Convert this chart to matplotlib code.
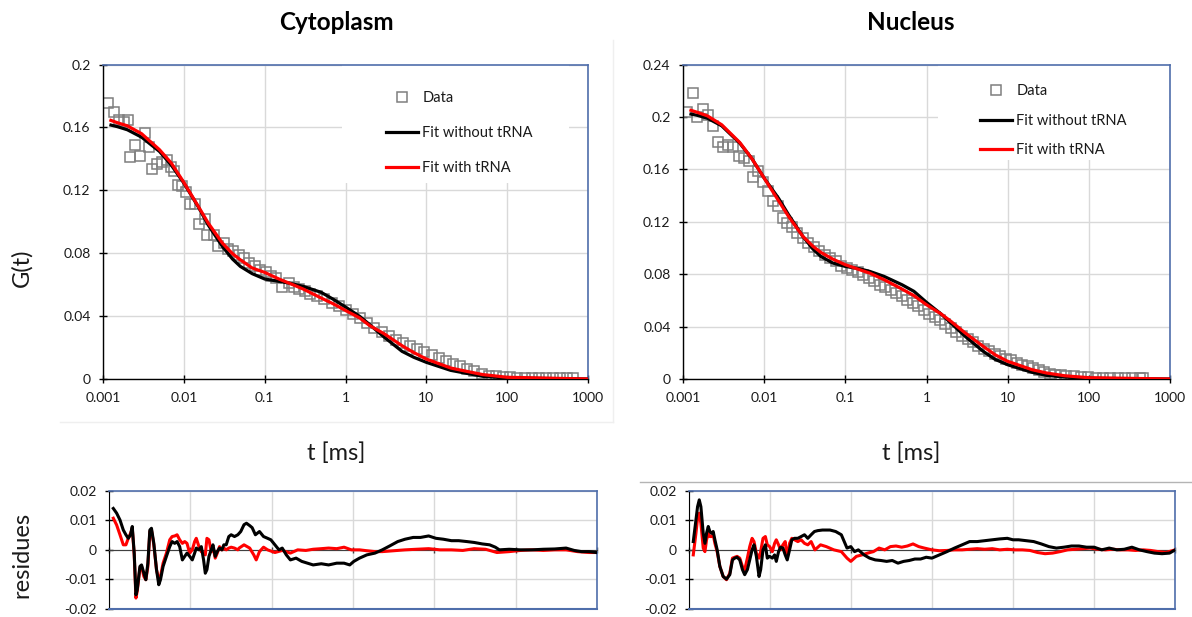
import numpy as np
import matplotlib
matplotlib.use("Agg")
import matplotlib.pyplot as plt
from matplotlib.lines import Line2D
from matplotlib.patches import Rectangle
from matplotlib.ticker import NullLocator

plt.rcParams['font.family'] = ['Lato', 'DejaVu Sans']

# ---------------- data ----------------
x_ticks = [0.001, 0.01, 0.1, 1, 10, 100, 1000]
x_ticklabels = ['0.001', '0.01', '0.1', '1', '10', '100', '1000']
cyto_yticks = [0, 0.04, 0.08, 0.12, 0.16, 0.2]
cyto_ylabels = ['0', '0.04', '0.08', '0.12', '0.16', '0.2']
nuc_yticks = [0, 0.04, 0.08, 0.12, 0.16, 0.2, 0.24]
nuc_ylabels = ['0', '0.04', '0.08', '0.12', '0.16', '0.2', '0.24']
res_yticks = [-0.02, -0.01, 0, 0.01, 0.02]
res_ylabels = ['-0.02', '-0.01', '0', '0.01', '0.02']
res_xgrid = [-3, -2, -1, 0, 1, 2, 3]

cyto_t = [0.00116, 0.00136, 0.00158, 0.00180, 0.00204, 0.00214, 0.00250, 0.00291, 0.00329, 0.00375,
          0.00407, 0.00460, 0.00536, 0.00612, 0.00692, 0.00765, 0.00848, 0.00958, 0.0106, 0.0119,
          0.0138, 0.0156, 0.0182, 0.0195, 0.0234, 0.0265, 0.0312, 0.0352, 0.0410, 0.0478,
          0.0556, 0.0648, 0.0755, 0.0879, 0.1025, 0.119, 0.139, 0.162, 0.199, 0.231,
          0.269, 0.314, 0.366, 0.448, 0.549, 0.674, 0.826, 1.01, 1.24, 1.52,
          1.86, 2.28, 2.80, 3.43, 4.20, 5.15, 6.31, 7.74, 9.49, 11.6,
          14.3, 17.5, 21.4, 26.2, 32.2, 39.4, 48.3, 59.2, 72.6, 88.9,
          109, 134, 164, 201, 246, 302, 370, 453, 555, 648]
cyto_G = [0.1754, 0.1697, 0.1644, 0.1635, 0.1645, 0.141, 0.1485, 0.142, 0.1564, 0.1475,
          0.1337, 0.1367, 0.1383, 0.139, 0.135, 0.132, 0.1235, 0.1225, 0.119, 0.1114,
          0.1114, 0.0987, 0.1017, 0.0917, 0.0917, 0.0843, 0.0864, 0.0826, 0.0811, 0.079,
          0.0769, 0.0737, 0.072, 0.0695, 0.0678, 0.0657, 0.0642, 0.0585, 0.061, 0.0585,
          0.0572, 0.0557, 0.0542, 0.0525, 0.0508, 0.0483, 0.0462, 0.0441, 0.0415, 0.0388,
          0.0356, 0.0324, 0.0297, 0.0271, 0.025, 0.0229, 0.0208, 0.0191, 0.0169, 0.0155,
          0.0133, 0.0112, 0.0097, 0.008, 0.0064, 0.0049, 0.0034, 0.0021, 0.0017, 0.0013,
          0.0011, 0.0009, 0.0008, 0.0007, 0.0006, 0.0006, 0.0005, 0.0005, 0.0005, 0.0005]

nuc_t = [0.00113, 0.00132, 0.00150, 0.00177, 0.00205, 0.00234, 0.00268, 0.00310, 0.00355, 0.00415,
         0.00485, 0.00567, 0.00642, 0.00734, 0.00841, 0.00972, 0.0111, 0.0127, 0.0147, 0.0169,
         0.0193, 0.0219, 0.0255, 0.0299, 0.0349, 0.0408, 0.0477, 0.0557, 0.0650, 0.0760,
         0.0888, 0.104, 0.121, 0.142, 0.166, 0.194, 0.226, 0.264, 0.309, 0.361,
         0.422, 0.493, 0.576, 0.673, 0.787, 0.920, 1.07, 1.26, 1.47, 1.71,
         2.00, 2.34, 2.74, 3.20, 3.73, 4.36, 5.10, 5.96, 6.97, 8.14,
         9.51, 11.1, 13.0, 15.2, 17.7, 20.7, 24.2, 28.3, 33.1, 38.7,
         45.2, 52.8, 65.0, 80.0, 98.5, 121, 149, 184, 226, 278,
         343, 421, 468]
nuc_G = [0.2041, 0.218, 0.2003, 0.206, 0.2016, 0.1927, 0.1812, 0.1774, 0.1787, 0.1769,
         0.1698, 0.1685, 0.166, 0.154, 0.1584, 0.1507, 0.1431, 0.1355, 0.1317, 0.1228,
         0.119, 0.1159, 0.1113, 0.1075, 0.1037, 0.1007, 0.0974, 0.0948, 0.0923, 0.0897,
         0.0859, 0.0846, 0.0834, 0.0813, 0.0796, 0.077, 0.0745, 0.0719, 0.0702, 0.0681,
         0.0656, 0.063, 0.0605, 0.058, 0.0554, 0.0529, 0.0498, 0.0473, 0.0447, 0.0422,
         0.0389, 0.0356, 0.033, 0.0305, 0.028, 0.0254, 0.0229, 0.0211, 0.0193, 0.0173,
         0.0155, 0.0142, 0.0122, 0.0109, 0.0097, 0.0081, 0.0066, 0.0051, 0.0041, 0.0033,
         0.0028, 0.0023, 0.002, 0.0015, 0.0013, 0.001, 0.0008, 0.0005, 0.0008, 0.0008,
         0.001, 0.0008, 0.0005]

fit_t = [0.0012, 0.0015, 0.002, 0.003, 0.005, 0.007, 0.01, 0.015, 0.02, 0.03,
         0.04, 0.05, 0.07, 0.1, 0.15, 0.2, 0.3, 0.5, 0.7, 1,
         1.5, 2, 3, 5, 7, 10, 20, 30, 50, 100, 1000]
cyto_fit_without = [0.1617, 0.1605, 0.1585, 0.1538, 0.1447, 0.136, 0.1246, 0.1097, 0.098, 0.0843,
                    0.0763, 0.0716, 0.067, 0.0636, 0.0621, 0.061, 0.0589, 0.0551, 0.0508, 0.0458,
                    0.0398, 0.0345, 0.0267, 0.0176, 0.0138, 0.0106, 0.0055, 0.0038, 0.0017, 0.0006, 0.0]
cyto_fit_with = [0.1648, 0.163, 0.161, 0.156, 0.1458, 0.1373, 0.125, 0.110, 0.0992, 0.0864,
                 0.0797, 0.0758, 0.0706, 0.0678, 0.0636, 0.061, 0.0572, 0.0515, 0.0479, 0.0436,
                 0.0388, 0.0339, 0.0288, 0.0212, 0.0168, 0.0127, 0.007, 0.0051, 0.0028, 0.0011, 0.0]
nuc_fit_without = [0.2024, 0.2012, 0.199, 0.1932, 0.180, 0.1685, 0.1533, 0.138, 0.1253, 0.1088,
                   0.0991, 0.0935, 0.0885, 0.0859, 0.0841, 0.0821, 0.0783, 0.0719, 0.0669, 0.0585,
                   0.0498, 0.0427, 0.0325, 0.0211, 0.0150, 0.0109, 0.0051, 0.0028, 0.0015, 0.0005, 0.0]
nuc_fit_with = [0.2054, 0.2035, 0.2008, 0.194, 0.1805, 0.1685, 0.1533, 0.1362, 0.124, 0.1088,
                0.1012, 0.0966, 0.0915, 0.0872, 0.0834, 0.0808, 0.0758, 0.0686, 0.0636, 0.0567,
                0.0498, 0.044, 0.0351, 0.0249, 0.0185, 0.0135, 0.0071, 0.0046, 0.0025, 0.001, 0.0]

# residues: x given as log10(t / ms)
cyto_res_logt_early = [-2.947, -2.906, -2.865, -2.824, -2.792, -2.763, -2.735, -2.714, -2.690, -2.669,
                       -2.653, -2.620, -2.600, -2.571, -2.547, -2.522, -2.498, -2.478, -2.449, -2.416,
                       -2.388, -2.367, -2.335, -2.294, -2.253, -2.224, -2.192, -2.163, -2.131, -2.098,
                       -2.069, -2.041, -2.008, -1.976, -1.947, -1.927, -1.894, -1.865, -1.837, -1.816,
                       -1.796, -1.771, -1.743, -1.722, -1.694, -1.669, -1.641, -1.612, -1.588, -1.559,
                       -1.527, -1.498, -1.457, -1.416]
cyto_res_without_early = [0.0140, 0.0124, 0.0101, 0.0067, 0.0051, 0.0039, 0.0051, 0.0079, -0.0011, -0.0152,
                          -0.0135, -0.0056, -0.0051, -0.0079, -0.0101, -0.0045, 0.0067, 0.0073, 0.0022, -0.0067,
                          -0.0118, -0.0101, -0.0056, -0.0022, 0.0011, 0.0028, 0.0022, 0.0028, 0.0011, -0.0034,
                          -0.0022, -0.0011, -0.0022, -0.0034, -0.0011, 0.0006, 0.0, 0.0011, -0.0034, -0.0079,
                          -0.0067, -0.0022, 0.0, 0.0017, -0.0022, -0.0006, 0.0006, 0.0, 0.0017, 0.0017,
                          0.0045, 0.0051, 0.0045, 0.0051]
cyto_res_with_early = [0.0107, 0.0084, 0.0051, 0.0017, 0.0017, 0.0039, 0.0056, 0.0073, -0.0017, -0.0163,
                       -0.0140, -0.0062, -0.0056, -0.0090, -0.0101, -0.0056, 0.0062, 0.0067, 0.0017, -0.0067,
                       -0.0101, -0.0090, -0.0045, -0.0011, 0.0034, 0.0045, 0.0047, 0.0051, 0.0034, 0.0022,
                       0.0028, 0.0022, -0.0011, 0.0, 0.0028, 0.0039, 0.0011, -0.0006, -0.0011, -0.0017,
                       0.0039, 0.0034, -0.0006, 0.0011, -0.0028, -0.0011, 0.0011, 0.0, 0.0006, 0.0,
                       0.0006, 0.0009, 0.0006, 0.0]
cyto_res_without_logt_late = [-1.38, -1.34, -1.31, -1.27, -1.24, -1.20, -1.15, -1.10, -1.05, -1.01,
                              -0.96, -0.91, -0.87, -0.82, -0.77, -0.70, -0.63, -0.56, -0.49, -0.39,
                              -0.30, -0.20, -0.11, -0.04, 0.01, 0.08, 0.17, 0.27, 0.36, 0.45,
                              0.55, 0.64, 0.74, 0.83, 0.93, 1.02, 1.11, 1.21, 1.30, 1.40,
                              1.49, 1.59, 1.68, 1.75, 1.80, 1.92, 2.06, 2.20, 2.34, 2.48,
                              2.62, 2.72, 2.81, 2.90, 2.99]
cyto_res_without_late = [0.0062, 0.0085, 0.009, 0.0082, 0.0075, 0.0051, 0.0062, 0.0045, 0.0039, 0.0034,
                         0.0017, 0.0, 0.0006, -0.0017, -0.0034, -0.0028, -0.0039, -0.0045, -0.0051, -0.0047,
                         -0.0051, -0.0045, -0.0045, -0.0051, -0.0039, -0.0028, -0.0017, -0.0011, 0.0, 0.0013,
                         0.0028, 0.0036, 0.0042, 0.0042, 0.0047, 0.0039, 0.0036, 0.0031, 0.0031, 0.0028,
                         0.0025, 0.002, 0.0017, 0.0009, 0.0, 0.0002, 0.0, 0.0, 0.0002, 0.0003,
                         0.0006, -0.0002, -0.0006, -0.0006, -0.0009]
cyto_res_with_logt_late = [-1.40, -1.34, -1.27, -1.22, -1.19, -1.15, -1.10, -1.05, -0.96, -0.87,
                           -0.77, -0.68, -0.58, -0.49, -0.39, -0.30, -0.20, -0.11, -0.02, 0.08,
                           0.17, 0.27, 0.36, 0.50, 0.64, 0.78, 0.93, 1.07, 1.21, 1.35,
                           1.49, 1.63, 1.77, 1.92, 2.06, 2.20, 2.34, 2.48, 2.62, 2.76,
                           2.90, 2.99]
cyto_res_with_late = [0.0006, 0.0017, 0.0006, -0.0017, -0.0034, -0.0006, 0.0009, 0.0, -0.0009, -0.0002,
                      -0.0011, 0.0, -0.0002, 0.0002, 0.0004, 0.0006, 0.0004, 0.0009, 0.0, 0.0,
                      -0.0003, -0.0006, -0.0006, -0.0003, 0.0, 0.0002, 0.0004, 0.0, 0.0, -0.0002,
                      0.0004, 0.0002, -0.0009, -0.0006, -0.0002, 0.0, -0.0002, 0.0, 0.0, -0.0006,
                      -0.0009, -0.0009]

nuc_res_logt_early = [-2.951, -2.918, -2.898, -2.877, -2.857, -2.828, -2.807, -2.787, -2.766, -2.746,
                      -2.725, -2.705, -2.684, -2.656, -2.623, -2.582, -2.541, -2.500, -2.467, -2.439,
                      -2.410, -2.377, -2.344, -2.316, -2.283, -2.254, -2.225, -2.201, -2.172, -2.139,
                      -2.119, -2.090, -2.061, -2.037, -2.008, -1.975, -1.947, -1.926, -1.898, -1.873,
                      -1.844, -1.816, -1.791, -1.762, -1.734, -1.701, -1.660, -1.619, -1.578, -1.537,
                      -1.496]
nuc_res_without_early = [0.0028, 0.0101, 0.0146, 0.0169, 0.0146, 0.0056, 0.0022, 0.0056, 0.0079, 0.0062,
                         0.0056, 0.0062, 0.0034, 0.0, -0.0056, -0.0090, -0.0099, -0.0084, -0.0034, -0.0028,
                         -0.0025, -0.0034, -0.0067, -0.0084, -0.0067, -0.0034, 0.0, 0.0017, -0.0022, -0.0090,
                         -0.0067, 0.0, 0.0017, -0.0028, -0.0022, -0.0028, -0.0017, -0.0039, -0.0006, 0.0009,
                         0.0006, -0.0017, -0.0034, 0.0, 0.0034, 0.0039, 0.0039, 0.0045, 0.0051, 0.0039,
                         0.0051]
nuc_res_with_early = [-0.0017, 0.0056, 0.0107, 0.0124, 0.0090, 0.0006, -0.0006, 0.0034, 0.0056, 0.0045,
                      0.0045, 0.0051, 0.0022, -0.0006, -0.0056, -0.0090, -0.0101, -0.0079, -0.0028, -0.0025,
                      -0.0022, -0.0028, -0.0056, -0.0067, -0.0028, 0.0011, 0.0039, 0.0028, -0.0011, -0.0028,
                      -0.0006, 0.0039, 0.0045, 0.0017, 0.0011, -0.0006, 0.0022, 0.0034, 0.0017, 0.0,
                      0.0017, 0.0028, -0.0028, 0.0022, 0.0039, 0.0034, 0.0028, 0.0034, 0.0022, 0.0017,
                      0.0028]
nuc_res_without_logt_late = [-1.455, -1.414, -1.356, -1.263, -1.193, -1.123, -1.053, -1.006, -0.960, -0.913,
                             -0.843, -0.774, -0.704, -0.634, -0.564, -0.494, -0.424, -0.354, -0.285, -0.215,
                             -0.145, -0.075, -0.005, 0.088, 0.181, 0.274, 0.368, 0.461, 0.554, 0.647,
                             0.740, 0.833, 0.926, 0.996, 1.066, 1.159, 1.252, 1.346, 1.439, 1.532,
                             1.625, 1.718, 1.811, 1.904, 1.998, 2.091, 2.184, 2.277, 2.370, 2.464,
                             2.557, 2.650, 2.743, 2.836, 2.929, 2.999]
nuc_res_without_late = [0.0062, 0.0065, 0.0067, 0.0067, 0.0062, 0.0051, 0.0006, 0.0011, -0.0006, 0.0,
                        -0.0017, -0.0028, -0.0034, -0.0036, -0.0039, -0.0036, -0.0045, -0.0039, -0.0036, -0.0031,
                        -0.0031, -0.0025, -0.0028, -0.0017, -0.0006, 0.0006, 0.0017, 0.0028, 0.0028, 0.0031,
                        0.0034, 0.0037, 0.0039, 0.0034, 0.0034, 0.0031, 0.0028, 0.0020, 0.0011, 0.0006,
                        0.0009, 0.0013, 0.0013, 0.0009, 0.0009, 0.0, 0.0006, 0.0, 0.0002, 0.0009,
                        0.0, -0.0006, -0.0011, -0.0013, -0.0011, 0.0]
nuc_res_with_logt_late = [-1.449, -1.380, -1.309, -1.216, -1.123, -1.053, -1.006, -0.937, -0.867, -0.797,
                          -0.727, -0.657, -0.587, -0.517, -0.448, -0.378, -0.308, -0.238, -0.168, -0.098,
                          -0.005, 0.088, 0.181, 0.274, 0.368, 0.461, 0.554, 0.647, 0.740, 0.833,
                          0.926, 1.019, 1.112, 1.205, 1.299, 1.392, 1.485, 1.578, 1.671, 1.764,
                          1.857, 1.950, 2.044, 2.137, 2.230, 2.323, 2.417, 2.510, 2.603, 2.696,
                          2.789, 2.883, 2.999]
nuc_res_with_late = [0.0, 0.0017, 0.0011, 0.0, -0.0006, -0.0028, -0.0039, -0.0022, -0.0017, -0.0011,
                     -0.0006, 0.0006, 0.0, 0.0011, 0.0013, 0.0009, 0.0013, 0.0020, 0.0011, 0.0006,
                     0.0, -0.0003, -0.0002, 0.0, 0.0, 0.0002, 0.0004, 0.0002, 0.0004, 0.0,
                     0.0002, 0.0, 0.0, -0.0002, -0.0009, -0.0013, -0.0011, -0.0006, 0.0, 0.0002,
                     0.0004, 0.0006, 0.0002, 0.0, 0.0002, 0.0, 0.0, -0.0002, 0.0, -0.0002,
                     -0.0006, -0.0009, 0.0]

legend_labels = ['Data', 'Fit without tRNA', 'Fit with tRNA']

# ---------------- styling ----------------
W, H = 1192, 617
BLUE = '#4f6eab'
GRID = '#d9d9d9'
TXT = '#1a1a1a'
SQ = '#7f7f7f'

fig = plt.figure(figsize=(W / 100, H / 100), dpi=100)


def px_axes(x0, y0, x1, y1):
    return fig.add_axes([x0 / W, 1 - y1 / H, (x1 - x0) / W, (y1 - y0) / H])


def fx(x):
    return x / W


def fy(y):
    return 1 - y / H


def style_top(ax, ymax, yticks, ylabels):
    ax.set_xscale('log')
    ax.set_xlim(1e-3, 1e3)
    ax.set_ylim(0, ymax)
    ax.set_xticks(x_ticks)
    ax.set_xticklabels(x_ticklabels)
    ax.xaxis.set_minor_locator(NullLocator())
    ax.set_yticks(yticks)
    ax.set_yticklabels(ylabels)
    ax.grid(True, color=GRID, lw=1)
    ax.set_axisbelow(True)
    for s in ['top', 'right']:
        ax.spines[s].set_color(BLUE)
        ax.spines[s].set_linewidth(1.2)
    for s in ['left', 'bottom']:
        ax.spines[s].set_color('black')
        ax.spines[s].set_linewidth(1)
    ax.tick_params(direction='inout', length=6, width=1, labelsize=10,
                   pad=6, colors='black', labelcolor=TXT)


def style_res(ax):
    ax.set_xlim(-3, 3)
    ax.set_ylim(-0.02, 0.02)
    ax.set_xticks(res_xgrid)
    ax.tick_params(axis='x', labelbottom=False, direction='inout', length=5,
                   width=1, color='#404040')
    ax.set_yticks(res_yticks)
    ax.set_yticklabels(res_ylabels)
    ax.tick_params(axis='y', direction='inout', length=6, width=1, labelsize=10,
                   pad=6, colors='black', labelcolor=TXT)
    ax.grid(True, color=GRID, lw=1)
    ax.set_axisbelow(True)
    ax.spines['bottom'].set_position(('data', 0))
    ax.spines['bottom'].set_color('#404040')
    for s in ['top', 'right']:
        ax.spines[s].set_color(BLUE)
        ax.spines[s].set_linewidth(1.2)
    ax.spines['left'].set_color('black')
    ax.axhline(-0.02, color=BLUE, lw=1.5, clip_on=False, zorder=5)


def draw_top(ax, t, G, fw, fwo, leg_anchor, leg_box, spacing):
    ax.plot(t, G, ls='none', marker='s', ms=7.5, mfc='none', mec=SQ, mew=1.1, zorder=2)
    ax.plot(fit_t, fwo, color='black', lw=2.3, zorder=3, solid_capstyle='butt')
    ax.plot(fit_t, fw, color='#ff0000', lw=2.3, zorder=4, solid_capstyle='butt')
    x0, y0, x1, y1 = leg_box
    ax.add_patch(Rectangle((fx(x0), fy(y1)), fx(x1) - fx(x0), fy(y0) - fy(y1),
                           transform=fig.transFigure, facecolor='white',
                           edgecolor='none', zorder=1))
    handles = [Line2D([], [], ls='none', marker='s', ms=7.5, mfc='none', mec=SQ, mew=1.1),
               Line2D([], [], color='black', lw=2.3),
               Line2D([], [], color='#ff0000', lw=2.3)]
    ax.legend(handles, legend_labels, loc='upper left',
              bbox_to_anchor=(fx(leg_anchor[0]), fy(leg_anchor[1])),
              bbox_transform=fig.transFigure, frameon=False, borderpad=0,
              borderaxespad=0, handlelength=2.2, handletextpad=0.3,
              labelspacing=spacing, fontsize=10.5, labelcolor=TXT)


# faint chart-area borders
fig.add_artist(Line2D([fx(613), fx(613)], [fy(40), fy(422)], color='#efefef', lw=1))
fig.add_artist(Line2D([fx(60), fx(613)], [fy(422), fy(422)], color='#efefef', lw=1))
fig.add_artist(Line2D([fx(640), 1.0], [fy(482), fy(482)], color='#b4b4b4', lw=1))

ax1 = px_axes(103, 64.5, 588, 379)
style_top(ax1, 0.2, cyto_yticks, cyto_ylabels)
draw_top(ax1, cyto_t, cyto_G, cyto_fit_with, cyto_fit_without,
         (386, 91), (342, 65, 569, 183), 1.45)

ax2 = px_axes(683, 64.5, 1170, 379)
style_top(ax2, 0.24, nuc_yticks, nuc_ylabels)
draw_top(ax2, nuc_t, nuc_G, nuc_fit_with, nuc_fit_without,
         (980, 84), (938, 65, 1169, 160), 1.08)

ax3 = px_axes(109, 490.7, 597, 609)
style_res(ax3)
ax3.plot(cyto_res_logt_early + cyto_res_with_logt_late,
         cyto_res_with_early + cyto_res_with_late, color='#ff0000', lw=2.2, zorder=3)
ax3.plot(cyto_res_logt_early + cyto_res_without_logt_late,
         cyto_res_without_early + cyto_res_without_late, color='black', lw=2.2, zorder=4)

ax4 = px_axes(689.3, 490.7, 1175.3, 609)
style_res(ax4)
ax4.plot(nuc_res_logt_early + nuc_res_with_logt_late,
         nuc_res_with_early + nuc_res_with_late, color='#ff0000', lw=2.2, zorder=3)
ax4.plot(nuc_res_logt_early + nuc_res_without_logt_late,
         nuc_res_without_early + nuc_res_without_late, color='black', lw=2.2, zorder=4)

# texts
fig.text(fx(336), fy(22), 'Cytoplasm', fontsize=17.5, fontweight='bold', ha='center', va='center', color='black')
fig.text(fx(911), fy(22), 'Nucleus', fontsize=17.5, fontweight='bold', ha='center', va='center', color='black')
fig.text(fx(22), fy(268), 'G(t)', fontsize=17, rotation=90, ha='center', va='center', color=TXT)
fig.text(fx(336), fy(453), 't [ms]', fontsize=17, ha='center', va='center', color=TXT)
fig.text(fx(911), fy(453), 't [ms]', fontsize=17, ha='center', va='center', color=TXT)
fig.text(fx(22), fy(555), 'residues', fontsize=17, rotation=90, ha='center', va='center', color=TXT)

fig.savefig('out.png', dpi=100, facecolor='white')
